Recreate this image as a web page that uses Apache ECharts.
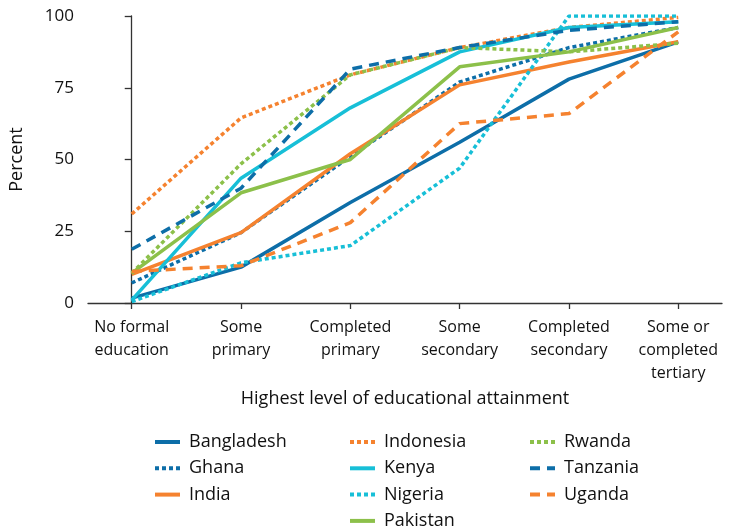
<!DOCTYPE html>
<html><head><meta charset="utf-8">
<script src="https://cdn.jsdelivr.net/npm/echarts@6/dist/echarts.min.js"></script>
<style>html,body{margin:0;padding:0;background:#fff}#c{width:733px;height:530px}</style>
</head><body><div id="c"></div>
<script>
const categories = ["No formal\neducation","Some\nprimary","Completed\nprimary","Some\nsecondary","Completed\nsecondary","Some or\ncompleted\ntertiary"];
const yTicks = [0,25,50,75,100];
const Bangladesh = [1.7,12.5,35,56,78,91];
const Ghana      = [7,24.5,51,77,89,96];
const India      = [10,24.5,52,76,84,91];
const Indonesia  = [31,64.5,79.5,89,96,99.5];
const Kenya      = [1,43.5,68,87.5,96,98];
const Nigeria    = [0.5,14,20,47,100,100];
const Pakistan   = [10.4,38.4,50,82.3,87.5,96];
const Rwanda     = [10.4,48.5,79.5,89,87.5,90.5];
const Tanzania   = [18.7,40,81.5,89,95,98];
const Uganda     = [11,13,28,62.5,66,94.5];

const BLUE='#0d6ea8', ORANGE='#f5822f', CYAN='#17bfd7', GREEN='#8cc04a';
const DOT=[4,3], DASH=[10,7];
const defs = [
  ['Bangladesh',Bangladesh,BLUE,'solid'],
  ['Ghana',Ghana,BLUE,DOT],
  ['India',India,ORANGE,'solid'],
  ['Indonesia',Indonesia,ORANGE,DOT],
  ['Kenya',Kenya,CYAN,'solid'],
  ['Nigeria',Nigeria,CYAN,DOT],
  ['Pakistan',Pakistan,GREEN,'solid'],
  ['Rwanda',Rwanda,GREEN,DOT],
  ['Tanzania',Tanzania,BLUE,DASH],
  ['Uganda',Uganda,ORANGE,DASH]
];
const FONT = '"Open Sans"';
const series = defs.map(([n,d,c,t])=>({
  name:n, type:'line', symbol:'none', data:d.map((v,i)=>[i,v]),
  lineStyle:{color:c,width:3.5,type:t,cap:'butt'}, itemStyle:{color:c},
  emphasis:{disabled:true}, animation:false
}));
const legendBase = {
  orient:'vertical', top:432, height:120, padding:0, itemWidth:25, itemHeight:14, itemGap:6.3,
  itemStyle:{color:'transparent',borderWidth:0,opacity:0},
  lineStyle:{width:4},
  textStyle:{fontFamily:FONT,fontSize:18,color:'#111',lineHeight:20,padding:[0,0,0,4]},
  selectedMode:false
};
const chart = echarts.init(document.getElementById('c'),null,{renderer:'canvas'});
chart.setOption({
  animation:false,
  grid:{left:87,right:11,top:16,bottom:227,containLabel:false},
  xAxis:{type:'value',min:-0.4,max:5.4,
    name:'Highest level of educational attainment',nameLocation:'middle',nameGap:87,
    nameTextStyle:{fontFamily:FONT,fontSize:18,color:'#111'},
    axisLine:{lineStyle:{color:'#333',width:1.3}},
    axisTick:{show:true,length:6,inside:false,customValues:[0,1,2,3,4,5],lineStyle:{color:'#333',width:1.3}},
    axisLabel:{customValues:[0,1,2,3,4,5],formatter:v=>categories[Math.round(v)],
      fontFamily:FONT,fontSize:16,color:'#111',lineHeight:23,margin:13,verticalAlign:'top'},
    splitLine:{show:false}},
  yAxis:{type:'value',min:0,max:100,interval:25,
    name:'Percent',nameLocation:'middle',nameGap:62,nameRotate:90,
    nameTextStyle:{fontFamily:FONT,fontSize:18,color:'#111'},
    axisLine:{show:true,lineStyle:{color:'#333',width:1.3}},
    axisTick:{show:true,length:7,lineStyle:{color:'#333',width:1.3}},
    axisLabel:{fontFamily:FONT,fontSize:17,color:'#111',margin:14},
    splitLine:{show:false}},
  legend:[
    Object.assign({},legendBase,{left:153,data:['Bangladesh','Ghana','India']}),
    Object.assign({},legendBase,{left:348,data:['Indonesia','Kenya','Nigeria','Pakistan']}),
    Object.assign({},legendBase,{left:528,data:['Rwanda','Tanzania','Uganda']})
  ],
  series:series
});
</script></body></html>
